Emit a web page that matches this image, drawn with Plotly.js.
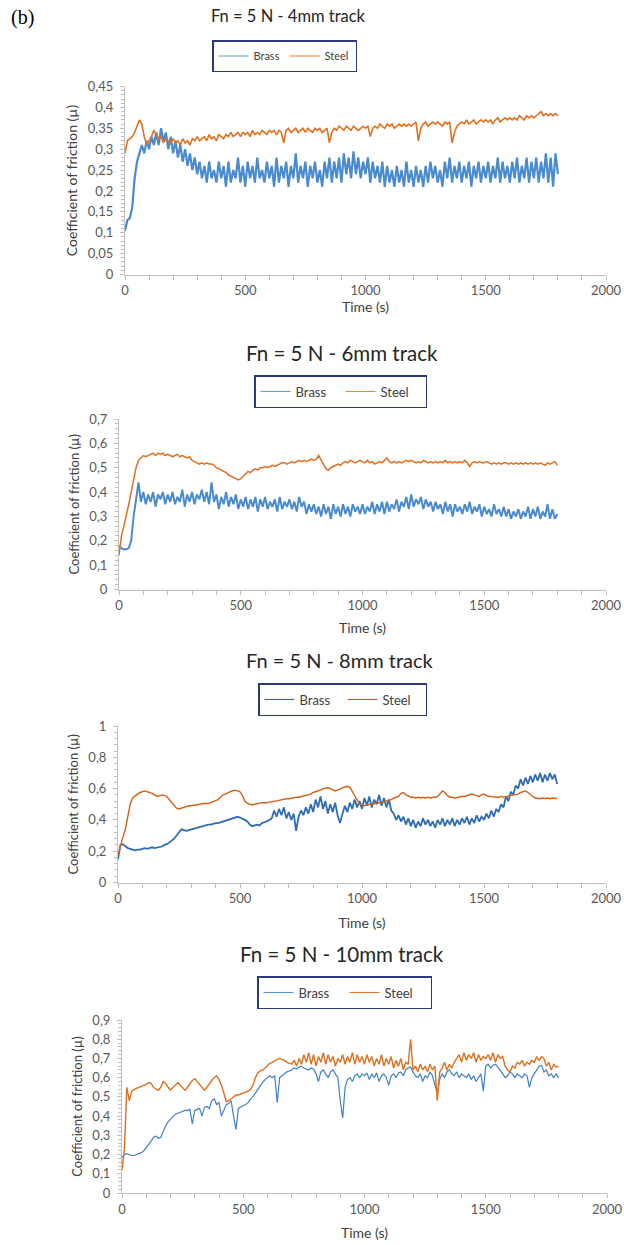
<!DOCTYPE html>
<html>
<head>
<meta charset="utf-8">
<script src="https://cdn.plot.ly/plotly-3.0.1.min.js"></script>
<style>html,body{margin:0;padding:0;background:#fff;}#chart{width:624px;height:1245px;}</style>
</head>
<body>
<div id="chart"></div>
<script>
// Samples every 10 s starting at 0 s
const TIME_START = 0;
const TIME_STEP = 10;
const seriesNames = ["Brass", "Steel"];
const panelTitles = ["Fn = 5 N - 4mm track", "Fn = 5 N - 6mm track", "Fn = 5 N - 8mm track", "Fn = 5 N - 10mm track"];
const xTitle = "Time (s)";
const yTitle = "Coefficient of friction (µ)";

const brass4mm = [
0.105,0.13,0.135,0.16,0.23,0.27,0.29,0.31,0.29,0.32,
0.30,0.33,0.31,0.34,0.31,0.35,0.32,0.34,0.30,0.33,
0.29,0.32,0.28,0.31,0.27,0.30,0.26,0.29,0.25,0.28,
0.24,0.27,0.23,0.26,0.22,0.27,0.23,0.25,0.22,0.27,
0.23,0.26,0.21,0.27,0.22,0.25,0.23,0.28,0.22,0.26,
0.21,0.27,0.23,0.26,0.22,0.28,0.23,0.25,0.22,0.27,
0.23,0.26,0.21,0.28,0.22,0.26,0.23,0.27,0.21,0.26,
0.23,0.29,0.22,0.26,0.23,0.27,0.21,0.26,0.23,0.27,
0.22,0.25,0.21,0.27,0.23,0.28,0.22,0.27,0.23,0.28,
0.22,0.29,0.24,0.28,0.23,0.295,0.24,0.28,0.23,0.27,
0.24,0.28,0.22,0.27,0.23,0.26,0.22,0.27,0.21,0.26,
0.22,0.25,0.21,0.26,0.22,0.25,0.21,0.27,0.22,0.25,
0.21,0.26,0.22,0.25,0.21,0.26,0.22,0.27,0.23,0.26,
0.22,0.25,0.21,0.27,0.23,0.28,0.22,0.26,0.23,0.27,
0.22,0.26,0.23,0.27,0.21,0.26,0.23,0.27,0.22,0.26,
0.23,0.27,0.22,0.26,0.23,0.28,0.22,0.27,0.23,0.26,
0.22,0.27,0.23,0.28,0.22,0.26,0.23,0.28,0.22,0.27,
0.23,0.28,0.22,0.27,0.23,0.29,0.22,0.28,0.21,0.29,
0.24];
const steel4mm = [
0.29,0.32,0.325,0.33,0.34,0.355,0.37,0.36,0.33,0.31,
0.32,0.33,0.345,0.335,0.325,0.33,0.315,0.325,0.32,0.315,
0.325,0.315,0.32,0.31,0.325,0.315,0.32,0.31,0.325,0.32,
0.33,0.32,0.325,0.33,0.32,0.335,0.325,0.33,0.32,0.335,
0.33,0.325,0.335,0.33,0.34,0.33,0.335,0.34,0.33,0.34,
0.335,0.34,0.33,0.345,0.335,0.34,0.335,0.345,0.34,0.335,
0.345,0.34,0.345,0.335,0.345,0.34,0.315,0.345,0.35,0.34,
0.345,0.35,0.34,0.345,0.35,0.34,0.35,0.345,0.34,0.35,
0.345,0.35,0.34,0.345,0.35,0.315,0.34,0.35,0.345,0.355,
0.35,0.345,0.355,0.35,0.345,0.355,0.35,0.345,0.35,0.355,
0.35,0.355,0.33,0.35,0.355,0.35,0.36,0.355,0.35,0.36,
0.355,0.36,0.35,0.355,0.36,0.355,0.36,0.355,0.36,0.355,
0.36,0.365,0.32,0.35,0.36,0.365,0.355,0.36,0.365,0.36,
0.365,0.36,0.355,0.365,0.36,0.365,0.315,0.34,0.355,0.36,
0.365,0.36,0.37,0.36,0.365,0.37,0.36,0.365,0.37,0.365,
0.37,0.365,0.37,0.36,0.37,0.375,0.365,0.37,0.375,0.37,
0.375,0.37,0.375,0.37,0.38,0.375,0.37,0.38,0.375,0.38,
0.375,0.38,0.385,0.39,0.38,0.385,0.38,0.385,0.38,0.385,
0.38];

const brass6mm = [
0.18,0.17,0.165,0.165,0.17,0.2,0.3,0.37,0.44,0.36,
0.40,0.35,0.39,0.36,0.40,0.34,0.39,0.37,0.40,0.35,
0.39,0.36,0.40,0.35,0.38,0.36,0.41,0.34,0.39,0.36,
0.40,0.35,0.39,0.37,0.41,0.36,0.40,0.35,0.44,0.36,
0.39,0.33,0.38,0.35,0.40,0.34,0.38,0.35,0.39,0.33,
0.37,0.34,0.38,0.33,0.37,0.34,0.38,0.32,0.37,0.34,
0.38,0.33,0.36,0.34,0.37,0.32,0.38,0.33,0.36,0.34,
0.37,0.33,0.36,0.32,0.38,0.34,0.36,0.31,0.35,0.32,
0.35,0.31,0.34,0.30,0.35,0.31,0.34,0.29,0.35,0.31,
0.34,0.30,0.35,0.31,0.34,0.30,0.35,0.32,0.34,0.31,
0.35,0.31,0.34,0.32,0.36,0.31,0.35,0.32,0.36,0.31,
0.36,0.32,0.35,0.33,0.37,0.32,0.36,0.34,0.38,0.33,
0.39,0.34,0.37,0.35,0.38,0.33,0.37,0.34,0.36,0.32,
0.36,0.33,0.35,0.31,0.36,0.32,0.35,0.30,0.35,0.32,
0.34,0.31,0.35,0.32,0.36,0.31,0.34,0.32,0.35,0.30,
0.34,0.31,0.33,0.30,0.35,0.31,0.33,0.30,0.34,0.30,
0.33,0.29,0.32,0.30,0.33,0.29,0.32,0.30,0.34,0.29,
0.33,0.30,0.34,0.29,0.32,0.30,0.35,0.29,0.33,0.29,
0.31];
const steel6mm = [
0.14,0.22,0.26,0.30,0.35,0.40,0.45,0.50,0.53,0.54,
0.55,0.545,0.55,0.555,0.56,0.55,0.56,0.555,0.56,0.55,
0.555,0.55,0.545,0.55,0.555,0.545,0.55,0.545,0.54,0.545,
0.53,0.525,0.52,0.515,0.52,0.515,0.52,0.515,0.515,0.51,
0.50,0.495,0.49,0.485,0.48,0.47,0.465,0.46,0.455,0.45,
0.455,0.465,0.475,0.485,0.48,0.49,0.495,0.49,0.5,0.50,
0.505,0.5,0.505,0.51,0.505,0.51,0.515,0.52,0.52,0.515,
0.52,0.525,0.52,0.525,0.53,0.525,0.53,0.525,0.53,0.535,
0.53,0.535,0.55,0.53,0.51,0.495,0.49,0.5,0.505,0.51,
0.515,0.51,0.52,0.525,0.52,0.53,0.525,0.52,0.525,0.53,
0.525,0.52,0.53,0.52,0.525,0.515,0.52,0.525,0.52,0.53,
0.54,0.525,0.52,0.525,0.52,0.525,0.52,0.525,0.53,0.525,
0.53,0.525,0.52,0.525,0.52,0.53,0.525,0.52,0.525,0.52,
0.525,0.52,0.525,0.52,0.53,0.52,0.525,0.52,0.525,0.52,
0.525,0.52,0.53,0.52,0.505,0.52,0.525,0.52,0.525,0.52,
0.52,0.525,0.52,0.515,0.52,0.515,0.52,0.515,0.52,0.52,
0.515,0.52,0.515,0.52,0.515,0.52,0.515,0.52,0.515,0.52,
0.515,0.52,0.515,0.52,0.515,0.51,0.52,0.515,0.52,0.525,
0.51];

const brass8mm = [
0.15,0.24,0.245,0.23,0.22,0.215,0.21,0.205,0.21,0.21,
0.215,0.22,0.215,0.22,0.225,0.22,0.225,0.23,0.23,0.24,
0.245,0.255,0.265,0.28,0.30,0.32,0.34,0.335,0.33,0.335,
0.34,0.345,0.35,0.35,0.355,0.36,0.365,0.37,0.37,0.375,
0.38,0.38,0.385,0.39,0.395,0.40,0.405,0.41,0.415,0.42,
0.415,0.41,0.40,0.39,0.37,0.36,0.365,0.37,0.365,0.38,
0.385,0.39,0.40,0.41,0.46,0.42,0.47,0.43,0.48,0.41,
0.45,0.40,0.44,0.33,0.42,0.46,0.43,0.48,0.44,0.50,
0.45,0.53,0.48,0.55,0.47,0.52,0.44,0.50,0.45,0.51,
0.43,0.38,0.44,0.49,0.45,0.51,0.47,0.53,0.48,0.52,
0.47,0.54,0.49,0.55,0.48,0.53,0.50,0.56,0.49,0.54,
0.48,0.53,0.46,0.44,0.40,0.43,0.39,0.42,0.37,0.41,
0.36,0.40,0.35,0.39,0.36,0.41,0.37,0.40,0.36,0.39,
0.35,0.40,0.37,0.41,0.36,0.40,0.37,0.41,0.36,0.40,
0.37,0.41,0.38,0.42,0.37,0.41,0.38,0.43,0.39,0.42,
0.40,0.44,0.41,0.46,0.42,0.47,0.45,0.50,0.48,0.55,
0.52,0.58,0.56,0.62,0.60,0.66,0.62,0.67,0.63,0.68,
0.64,0.69,0.65,0.70,0.64,0.69,0.65,0.70,0.66,0.69,
0.63];
const steel8mm = [
0.17,0.24,0.29,0.34,0.42,0.50,0.54,0.555,0.565,0.575,
0.58,0.585,0.58,0.575,0.57,0.56,0.55,0.555,0.56,0.555,
0.55,0.53,0.51,0.49,0.475,0.47,0.475,0.48,0.485,0.49,
0.49,0.495,0.495,0.50,0.50,0.505,0.505,0.505,0.51,0.515,
0.52,0.53,0.545,0.56,0.565,0.575,0.58,0.585,0.59,0.585,
0.58,0.555,0.52,0.505,0.50,0.495,0.50,0.505,0.505,0.51,
0.51,0.51,0.515,0.515,0.52,0.52,0.525,0.53,0.53,0.535,
0.535,0.54,0.54,0.545,0.545,0.55,0.55,0.555,0.56,0.565,
0.575,0.58,0.585,0.59,0.60,0.605,0.605,0.60,0.59,0.585,
0.59,0.60,0.605,0.61,0.615,0.61,0.58,0.55,0.52,0.50,
0.495,0.49,0.495,0.50,0.50,0.505,0.505,0.51,0.515,0.515,
0.52,0.525,0.53,0.54,0.545,0.55,0.57,0.575,0.56,0.55,
0.545,0.545,0.54,0.545,0.54,0.545,0.54,0.545,0.54,0.545,
0.545,0.55,0.57,0.585,0.575,0.555,0.545,0.545,0.54,0.545,
0.545,0.55,0.55,0.555,0.56,0.565,0.56,0.555,0.55,0.56,
0.565,0.555,0.55,0.55,0.545,0.545,0.545,0.55,0.545,0.55,
0.55,0.555,0.56,0.56,0.565,0.575,0.58,0.585,0.575,0.56,
0.55,0.54,0.535,0.535,0.54,0.535,0.54,0.535,0.54,0.535,
0.535];

const brass10mm = [
0.185,0.20,0.205,0.20,0.195,0.195,0.20,0.205,0.21,0.22,
0.235,0.25,0.27,0.29,0.295,0.285,0.29,0.32,0.35,0.37,
0.385,0.40,0.41,0.415,0.42,0.425,0.43,0.43,0.435,0.36,
0.43,0.435,0.44,0.40,0.445,0.45,0.44,0.48,0.49,0.46,
0.47,0.40,0.43,0.46,0.465,0.48,0.40,0.33,0.44,0.45,
0.455,0.46,0.47,0.49,0.50,0.52,0.54,0.56,0.575,0.59,
0.60,0.61,0.60,0.61,0.47,0.60,0.61,0.62,0.63,0.635,
0.64,0.65,0.645,0.655,0.66,0.65,0.645,0.64,0.65,0.645,
0.62,0.58,0.63,0.64,0.62,0.60,0.63,0.64,0.62,0.60,
0.48,0.39,0.55,0.59,0.60,0.58,0.61,0.62,0.60,0.62,
0.61,0.625,0.59,0.62,0.60,0.625,0.58,0.61,0.62,0.60,
0.56,0.61,0.62,0.60,0.625,0.63,0.61,0.64,0.65,0.655,
0.63,0.61,0.60,0.62,0.58,0.61,0.60,0.63,0.61,0.57,
0.52,0.59,0.62,0.60,0.63,0.64,0.62,0.61,0.63,0.60,
0.62,0.61,0.60,0.62,0.59,0.61,0.58,0.60,0.62,0.53,
0.66,0.67,0.65,0.665,0.67,0.655,0.64,0.62,0.60,0.61,
0.63,0.62,0.60,0.62,0.61,0.60,0.62,0.61,0.55,0.60,
0.62,0.64,0.66,0.665,0.63,0.64,0.61,0.62,0.60,0.62,
0.60];
const steel10mm = [
0.12,0.23,0.55,0.48,0.53,0.54,0.545,0.55,0.555,0.56,
0.565,0.575,0.57,0.55,0.54,0.535,0.55,0.58,0.57,0.55,
0.535,0.55,0.56,0.575,0.56,0.545,0.535,0.55,0.57,0.585,
0.595,0.58,0.56,0.545,0.535,0.55,0.57,0.585,0.60,0.61,
0.59,0.56,0.52,0.475,0.48,0.49,0.50,0.51,0.51,0.515,
0.52,0.525,0.53,0.54,0.56,0.60,0.625,0.635,0.64,0.65,
0.665,0.675,0.68,0.69,0.695,0.70,0.695,0.69,0.68,0.675,
0.67,0.69,0.66,0.70,0.67,0.72,0.68,0.73,0.67,0.72,
0.66,0.71,0.68,0.73,0.67,0.72,0.68,0.71,0.66,0.70,
0.68,0.72,0.67,0.71,0.68,0.73,0.67,0.72,0.68,0.71,
0.67,0.72,0.68,0.71,0.66,0.70,0.67,0.72,0.66,0.70,
0.67,0.71,0.65,0.69,0.66,0.70,0.64,0.68,0.67,0.80,
0.64,0.66,0.63,0.67,0.64,0.66,0.63,0.67,0.64,0.66,
0.48,0.63,0.65,0.68,0.64,0.67,0.65,0.68,0.70,0.72,
0.68,0.73,0.69,0.72,0.70,0.73,0.68,0.72,0.69,0.71,
0.70,0.72,0.69,0.73,0.68,0.72,0.70,0.71,0.66,0.64,
0.63,0.66,0.65,0.68,0.67,0.69,0.66,0.68,0.67,0.69,
0.68,0.71,0.69,0.71,0.70,0.66,0.68,0.64,0.67,0.655,
0.66];

const panelData = [[brass4mm, steel4mm],[brass6mm, steel6mm],[brass8mm, steel8mm],[brass10mm, steel10mm]];
const yMax = [0.45, 0.7, 1, 0.9];
const yMajor = [0.05, 0.1, 0.2, 0.1];
const yMinor = [0.01, 0.02, 0.04, 0.02];

// Layout (pixel geometry of the 624x1245 page)
const W = 624, H = 1245;
const plots = [
  {l:125, r:606, t:86.5, b:274.5, titleX:288, titleY:16, titleSize:16.5, legX:212, legY:40, legFont:11, entryW:26, yTitleSize:14, xStand:0},
  {l:119, r:606, t:419, b:589.5, titleX:342, titleY:353, titleSize:20.5, legX:254, legY:375, legFont:13, entryW:40, yTitleSize:13, xStand:11},
  {l:118, r:606, t:726, b:882.5, titleX:340, titleY:660, titleSize:20, legX:258, legY:683, legFont:13, entryW:38, yTitleSize:13, xStand:13},
  {l:122, r:607, t:1020, b:1193, titleX:342, titleY:954, titleSize:20.5, legX:257, legY:976, legFont:13, entryW:41, yTitleSize:13, xStand:12}
];
const colors = [
  ["#4a8bd0", "#e0701f"],
  ["#4a8bd0", "#e0701f"],
  ["#2f6cb4", "#d0601a"],
  ["#3f80c8", "#e0701f"]
];
const legendColors = [
  ["#5b9bd5", "#ed7d31"],
  ["#5b9bd5", "#ed7d31"],
  ["#2e5c9e", "#c0462a"],
  ["#4a8bd0", "#e0701f"]
];
const widths = [[2.2, 1.6], [2.0, 1.5], [1.8, 1.4], [1.2, 1.4]];

const FONT = "Lato, 'Open Sans', sans-serif";
const traces = [];
const layout = {
  width: W, height: H,
  margin: {l:0, r:0, t:0, b:0},
  paper_bgcolor: "#ffffff", plot_bgcolor: "#ffffff",
  separators: ", ",
  font: {family: FONT, color: "#595959", size: 13},
  annotations: [
    {text: "(b)", xref: "paper", yref: "paper", x: 9/W, y: 1 - 17/H, xanchor: "left", yanchor: "middle",
     showarrow: false, font: {family: "'Liberation Serif', 'DejaVu Serif', serif", size: 20, color: "#000"}}
  ]
};

plots.forEach((p, i) => {
  const n = i === 0 ? "" : String(i + 1);
  const legName = "legend" + n;
  panelData[i].forEach((arr, k) => {
    // data line
    traces.push({
      type: "scatter", mode: "lines", name: seriesNames[k],
      y: arr, x0: TIME_START, dx: TIME_STEP,
      xaxis: "x" + n, yaxis: "y" + n,
      line: {color: colors[i][k], width: widths[i][k]},
      legend: legName, showlegend: false, hoverinfo: "skip"
    });
  });
  panelData[i].forEach((arr, k) => {
    // thin legend entry (no marks drawn)
    traces.push({
      type: "scatter", mode: "lines", name: seriesNames[k],
      x: [null], y: [null],
      xaxis: "x" + n, yaxis: "y" + n,
      line: {color: legendColors[i][k], width: 1},
      legend: legName, showlegend: true, hoverinfo: "skip"
    });
  });
  layout["xaxis" + n] = {
    domain: [p.l / W, p.r / W], anchor: "y" + n,
    range: [0, 2000], dtick: 500, tick0: 0,
    showline: true, linecolor: "#bfbfbf", linewidth: 1,
    ticks: "outside", ticklen: 4, tickcolor: "#bfbfbf",
    minor: {dtick: 100, ticks: "outside", ticklen: 4, tickcolor: "#bfbfbf", showgrid: false},
    showgrid: false, zeroline: false,
    tickfont: {size: 13, color: "#595959", family: FONT},
    title: {text: xTitle, standoff: p.xStand,
            font: {size: 14, color: "#404040", family: FONT}}
  };
  layout["yaxis" + n] = {
    domain: [1 - p.b / H, 1 - p.t / H], anchor: "x" + n,
    range: [0, yMax[i]], dtick: yMajor[i], tick0: 0,
    showline: true, linecolor: "#bfbfbf", linewidth: 1,
    ticks: "outside", ticklen: 4, tickcolor: "#bfbfbf",
    minor: {dtick: yMinor[i], ticks: "outside", ticklen: 3, tickcolor: "#bfbfbf", showgrid: false},
    showgrid: false, zeroline: false, ticklabelstandoff: 4,
    tickfont: {size: 13, color: "#595959", family: FONT},
    title: {text: yTitle, standoff: 6, font: {size: p.yTitleSize, color: "#404040", family: FONT}}
  };
  layout[legName] = {
    x: p.legX / W, y: 1 - p.legY / H, xanchor: "left", yanchor: "top",
    xref: "paper", yref: "paper",
    orientation: "h", bgcolor: "#ffffff", bordercolor: "#2b3a7e", borderwidth: 1.5,
    font: {size: p.legFont, color: "#404040", family: FONT},
    itemwidth: 30, entrywidth: p.entryW, entrywidthmode: "pixels", tracegroupgap: 0
  };
  layout.annotations.push({
    text: panelTitles[i], xref: "paper", yref: "paper",
    x: p.titleX / W, y: 1 - p.titleY / H,
    xanchor: "center", yanchor: "middle", showarrow: false,
    font: {size: p.titleSize, color: "#262626", family: FONT}
  });
});

Plotly.newPlot("chart", traces, layout, {staticPlot: true, displayModeBar: false});
</script>
</body>
</html>
